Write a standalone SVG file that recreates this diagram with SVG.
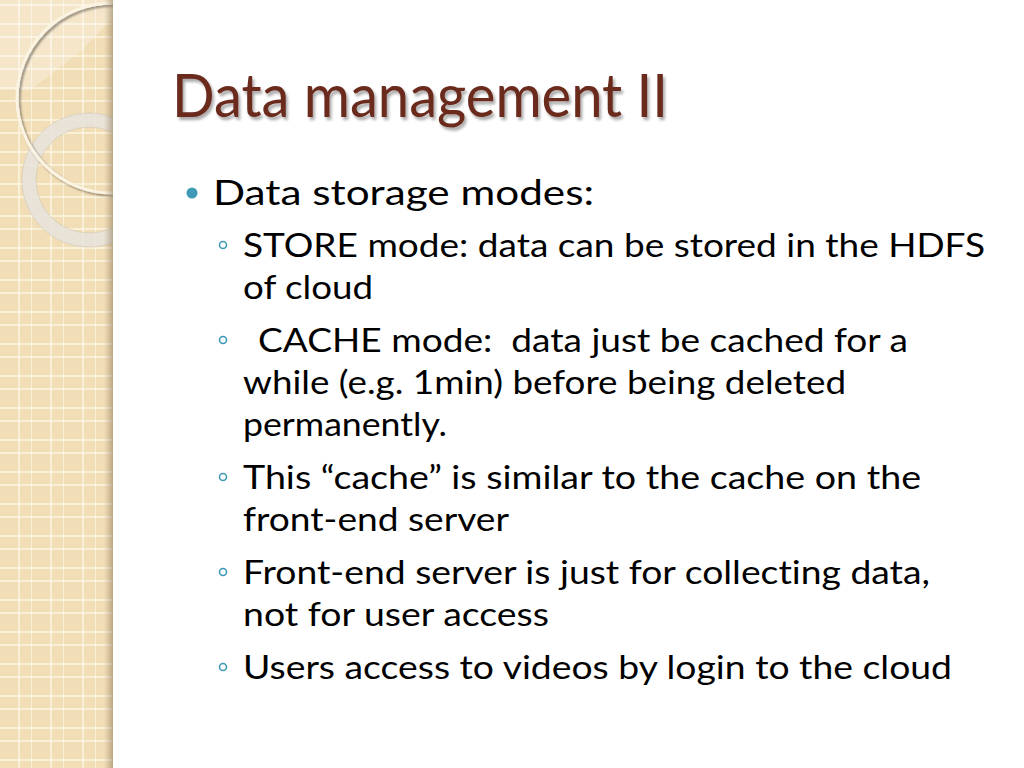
<svg xmlns="http://www.w3.org/2000/svg" width="1024" height="768" viewBox="0 0 1024 768">
<defs>
  <pattern id="grid" x="0" y="0" width="32" height="32" patternUnits="userSpaceOnUse">
    <rect width="32" height="32" fill="#F1DDB6"/>
    <rect x="18.3" y="0" width="1.4" height="32" fill="#FFF7E6"/>
    <rect x="31.3" y="0" width="1.4" height="32" fill="#FFF7E6"/>
    <rect x="0" y="4.3" width="32" height="1.4" fill="#FFF7E6"/>
    <rect x="0" y="23.3" width="32" height="1.4" fill="#FFF7E6"/>
  </pattern>
  <linearGradient id="edge" x1="0" y1="0" x2="1" y2="0">
    <stop offset="0" stop-color="#A08A6A" stop-opacity="0"/>
    <stop offset="1" stop-color="#8C7758" stop-opacity="0.55"/>
  </linearGradient>
  <filter id="tshadow" x="-5%" y="-20%" width="110%" height="150%">
    <feGaussianBlur in="SourceAlpha" stdDeviation="1.5"/>
    <feOffset dx="2" dy="3" result="b"/>
    <feComponentTransfer><feFuncA type="linear" slope="0.35"/></feComponentTransfer>
    <feMerge><feMergeNode/><feMergeNode in="SourceGraphic"/></feMerge>
  </filter>
  <filter id="cshadow" x="-20%" y="-20%" width="140%" height="140%">
    <feGaussianBlur in="SourceAlpha" stdDeviation="1.2"/>
    <feOffset dx="1.5" dy="2"/>
    <feComponentTransfer><feFuncA type="linear" slope="0.4"/></feComponentTransfer>
    <feMerge><feMergeNode/><feMergeNode in="SourceGraphic"/></feMerge>
  </filter>
  <clipPath id="strip"><rect x="0" y="0" width="113" height="768"/></clipPath>
  <style>
    text { font-variant-ligatures: none; }
    .t1 { font-family: Lato, "Liberation Sans", sans-serif; font-size: 35px; fill: #000; }
    .t2 { font-family: Lato, "Liberation Sans", sans-serif; font-size: 33px; fill: #000; }
    .title { font-family: Lato, "Liberation Sans", sans-serif; font-size: 60px; fill: #6A2A1F; }
    .b2 { fill: none; stroke: #3E9AB5; stroke-width: 1.6; }
  </style>
</defs>
<rect width="1024" height="768" fill="#FFFFFF"/>
<g id="sidebar">
  <rect x="0" y="0" width="113" height="768" fill="url(#grid)"/>
  <g clip-path="url(#strip)">
    <polygon points="0,0 113,0 113,18 80,52 30,90 0,90" fill="#FFFFFF" opacity="0.28"/>
    <circle cx="89" cy="180" r="60" fill="none" stroke="#E6E3DD" stroke-width="14" opacity="0.85"/>
    <circle cx="89" cy="180" r="67" fill="none" stroke="#CFC6B6" stroke-width="0.8" opacity="0.7"/>
    <circle cx="89" cy="180" r="53" fill="none" stroke="#CFC6B6" stroke-width="0.8" opacity="0.7"/>
    <circle cx="112" cy="98" r="95" fill="none" stroke="#FBF4E2" stroke-width="3" filter="url(#cshadow)"/>
  </g>
  <rect x="104" y="0" width="9" height="768" fill="url(#edge)"/>
</g>
<g id="title">
  <text class="title" x="172" y="117" textLength="496" lengthAdjust="spacingAndGlyphs" filter="url(#tshadow)">Data management II</text>
</g>
<g id="bullets">
  <circle cx="192" cy="193" r="5.5" fill="#3E9AB5"/>
  <text class="t1" x="213" y="205" textLength="381" lengthAdjust="spacingAndGlyphs">Data storage modes:</text>

  <circle class="b2" cx="223" cy="245" r="3.5"/>
  <text class="t2" x="243" y="257" textLength="742" lengthAdjust="spacingAndGlyphs">STORE mode: data can be stored in the HDFS</text>
  <text class="t2" x="243" y="299" textLength="130" lengthAdjust="spacingAndGlyphs">of cloud</text>

  <circle class="b2" cx="223" cy="340" r="3.5"/>
  <text class="t2" x="258" y="352" textLength="650" lengthAdjust="spacingAndGlyphs" xml:space="preserve">CACHE mode:  data just be cached for a</text>
  <text class="t2" x="243" y="394" textLength="603" lengthAdjust="spacingAndGlyphs">while (e.g. 1min) before being deleted</text>
  <text class="t2" x="243" y="436" textLength="204" lengthAdjust="spacingAndGlyphs">permanently.</text>

  <circle class="b2" cx="223" cy="477" r="3.5"/>
  <text class="t2" x="243" y="489" textLength="678" lengthAdjust="spacingAndGlyphs">This “cache” is similar to the cache on the</text>
  <text class="t2" x="243" y="531" textLength="266" lengthAdjust="spacingAndGlyphs">front-end server</text>

  <circle class="b2" cx="223" cy="572" r="3.5"/>
  <text class="t2" x="243" y="584" textLength="687" lengthAdjust="spacingAndGlyphs">Front-end server is just for collecting data,</text>
  <text class="t2" x="243" y="626" textLength="306" lengthAdjust="spacingAndGlyphs">not for user access</text>

  <circle class="b2" cx="223" cy="667" r="3.5"/>
  <text class="t2" x="243" y="679" textLength="709" lengthAdjust="spacingAndGlyphs">Users access to videos by login to the cloud</text>
</g>
</svg>
